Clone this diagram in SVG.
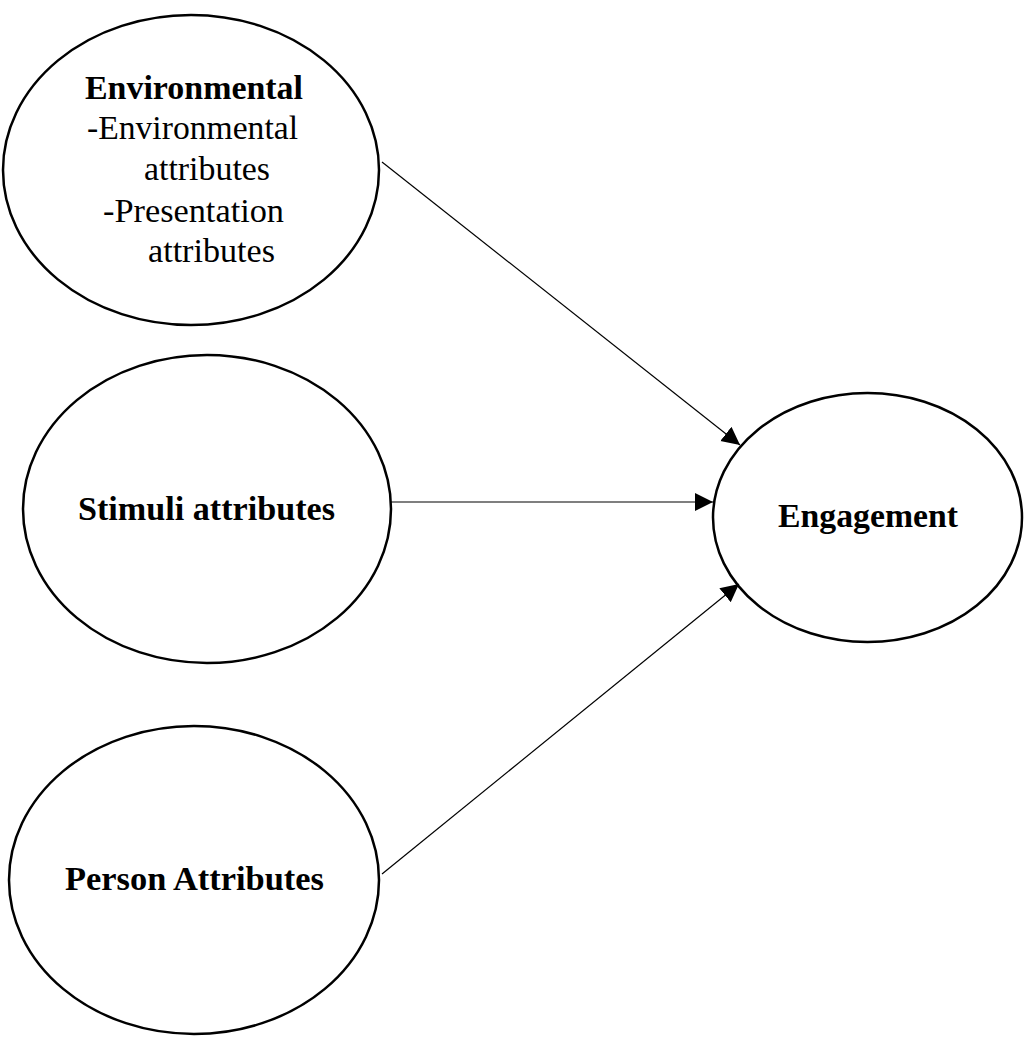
<svg xmlns="http://www.w3.org/2000/svg" width="1034" height="1050" viewBox="0 0 1034 1050">
<style>
.node{fill:#fff;stroke:#000;stroke-width:2.5}
.conn{stroke:#000;stroke-width:1.2;fill:none}
.b{font-family:"Liberation Serif","Times New Roman",serif;font-weight:bold;font-size:34px;fill:#000}
.r{font-family:"Liberation Serif","Times New Roman",serif;font-size:33.5px;fill:#000}
</style>
<defs>
<marker id="ah" markerUnits="userSpaceOnUse" markerWidth="19" markerHeight="19" refX="18" refY="9" orient="auto" viewBox="0 0 19 19">
<path d="M0,0 L18,9 L0,18 z" fill="#000"/>
</marker>
</defs>
<rect width="1034" height="1050" fill="#fff"/>
<g id="env">
<ellipse class="node" cx="191" cy="170" rx="188" ry="155"/>
<text class="b" x="85" y="99" textLength="218" lengthAdjust="spacingAndGlyphs">Environmental</text>
<text class="r" x="87" y="139" textLength="211" lengthAdjust="spacingAndGlyphs">-Environmental</text>
<text class="r" x="144" y="180" textLength="126" lengthAdjust="spacingAndGlyphs">attributes</text>
<text class="r" x="103" y="222" textLength="181" lengthAdjust="spacingAndGlyphs">-Presentation</text>
<text class="r" x="148" y="262" textLength="127" lengthAdjust="spacingAndGlyphs">attributes</text>
</g>
<g id="stim">
<ellipse class="node" cx="207" cy="509" rx="184" ry="154"/>
<text class="b" x="78" y="520" textLength="257" lengthAdjust="spacingAndGlyphs">Stimuli attributes</text>
</g>
<g id="person">
<ellipse class="node" cx="194" cy="880" rx="185" ry="154"/>
<text class="b" x="65" y="890" textLength="259" lengthAdjust="spacingAndGlyphs">Person Attributes</text>
</g>
<g id="eng">
<ellipse class="node" cx="867.5" cy="517.5" rx="154.5" ry="124.5"/>
<text class="b" x="778" y="527" textLength="180" lengthAdjust="spacingAndGlyphs">Engagement</text>
</g>
<g id="connectors">
<line class="conn" x1="382" y1="162" x2="740" y2="445" marker-end="url(#ah)"/>
<line class="conn" x1="390" y1="502" x2="713" y2="502" marker-end="url(#ah)"/>
<line class="conn" x1="382" y1="874" x2="739" y2="584" marker-end="url(#ah)"/>
</g>
</svg>
